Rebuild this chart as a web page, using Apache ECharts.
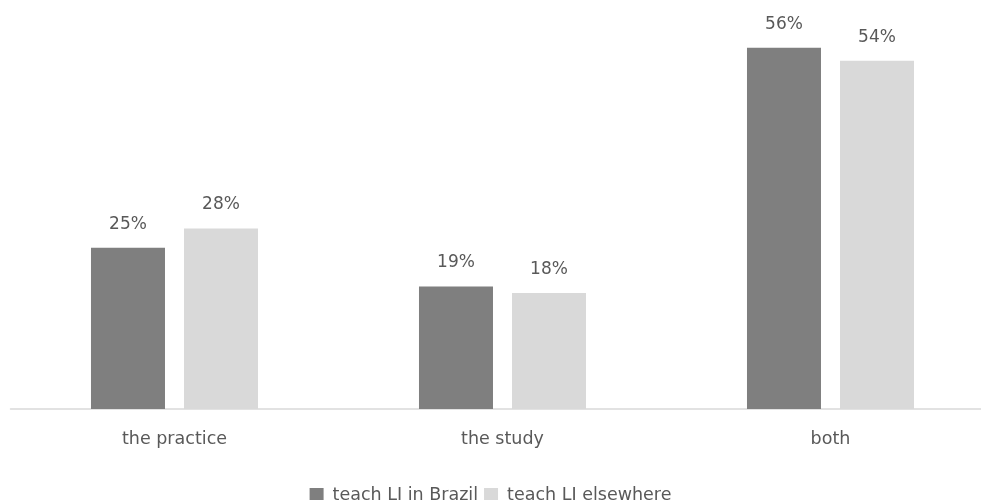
<!DOCTYPE html>
<html>
<head>
<meta charset="utf-8">
<script src="https://cdn.jsdelivr.net/npm/echarts@6/dist/echarts.min.js"></script>
<style>
  html, body { margin: 0; padding: 0; background: #fff; }
  #chart { width: 981px; height: 500px; }
</style>
</head>
<body>
<div id="chart"></div>
<script>
// Share of respondents by focus, split by where they teach
const categories = ['the practice', 'the study', 'both'];
const seriesNames = ['teach LJ in Brazil', 'teach LJ elsewhere'];
const brazilValues = [25, 19, 56];
const elsewhereValues = [28, 18, 54];

const FONT = '"DejaVu Sans", sans-serif';
const TEXT = '#595959';

const chart = echarts.init(document.getElementById('chart'), null, { renderer: 'canvas' });

const valueLabel = {
  show: true, position: 'top', distance: 15,
  formatter: p => p.value + '%',
  color: TEXT, fontSize: 17, fontFamily: FONT
};

chart.setOption({
  animation: false,
  textStyle: { fontFamily: FONT },
  // plot area runs slightly past the right edge of the canvas
  grid: {
    left: 10.5, width: 984, top: 22, bottom: 91,
    containLabel: false, outerBoundsMode: 'none'
  },
  legend: {
    data: seriesNames,
    left: 'center',
    top: 481,
    itemWidth: 14,
    itemHeight: 14,
    itemGap: 6,
    icon: 'rect',
    textStyle: { fontFamily: FONT, fontSize: 17.5, color: TEXT, padding: [0, 0, 0, 4] }
  },
  xAxis: {
    type: 'category',
    data: categories,
    axisLine: { show: true, lineStyle: { color: '#d9d9d9', width: 1.5 } },
    axisTick: { show: false },
    axisLabel: { color: TEXT, fontSize: 17.5, fontFamily: FONT, margin: 21 }
  },
  yAxis: {
    type: 'value',
    min: 0,
    max: 60,
    show: false,
    splitLine: { show: false }
  },
  series: [
    {
      name: seriesNames[0],
      type: 'bar',
      data: brazilValues,
      barWidth: 74,
      barGap: '25.7%',
      itemStyle: { color: '#7f7f7f' },
      label: valueLabel
    },
    {
      name: seriesNames[1],
      type: 'bar',
      data: elsewhereValues,
      barWidth: 74,
      itemStyle: { color: '#d9d9d9' },
      label: valueLabel
    }
  ]
});
</script>
</body>
</html>
